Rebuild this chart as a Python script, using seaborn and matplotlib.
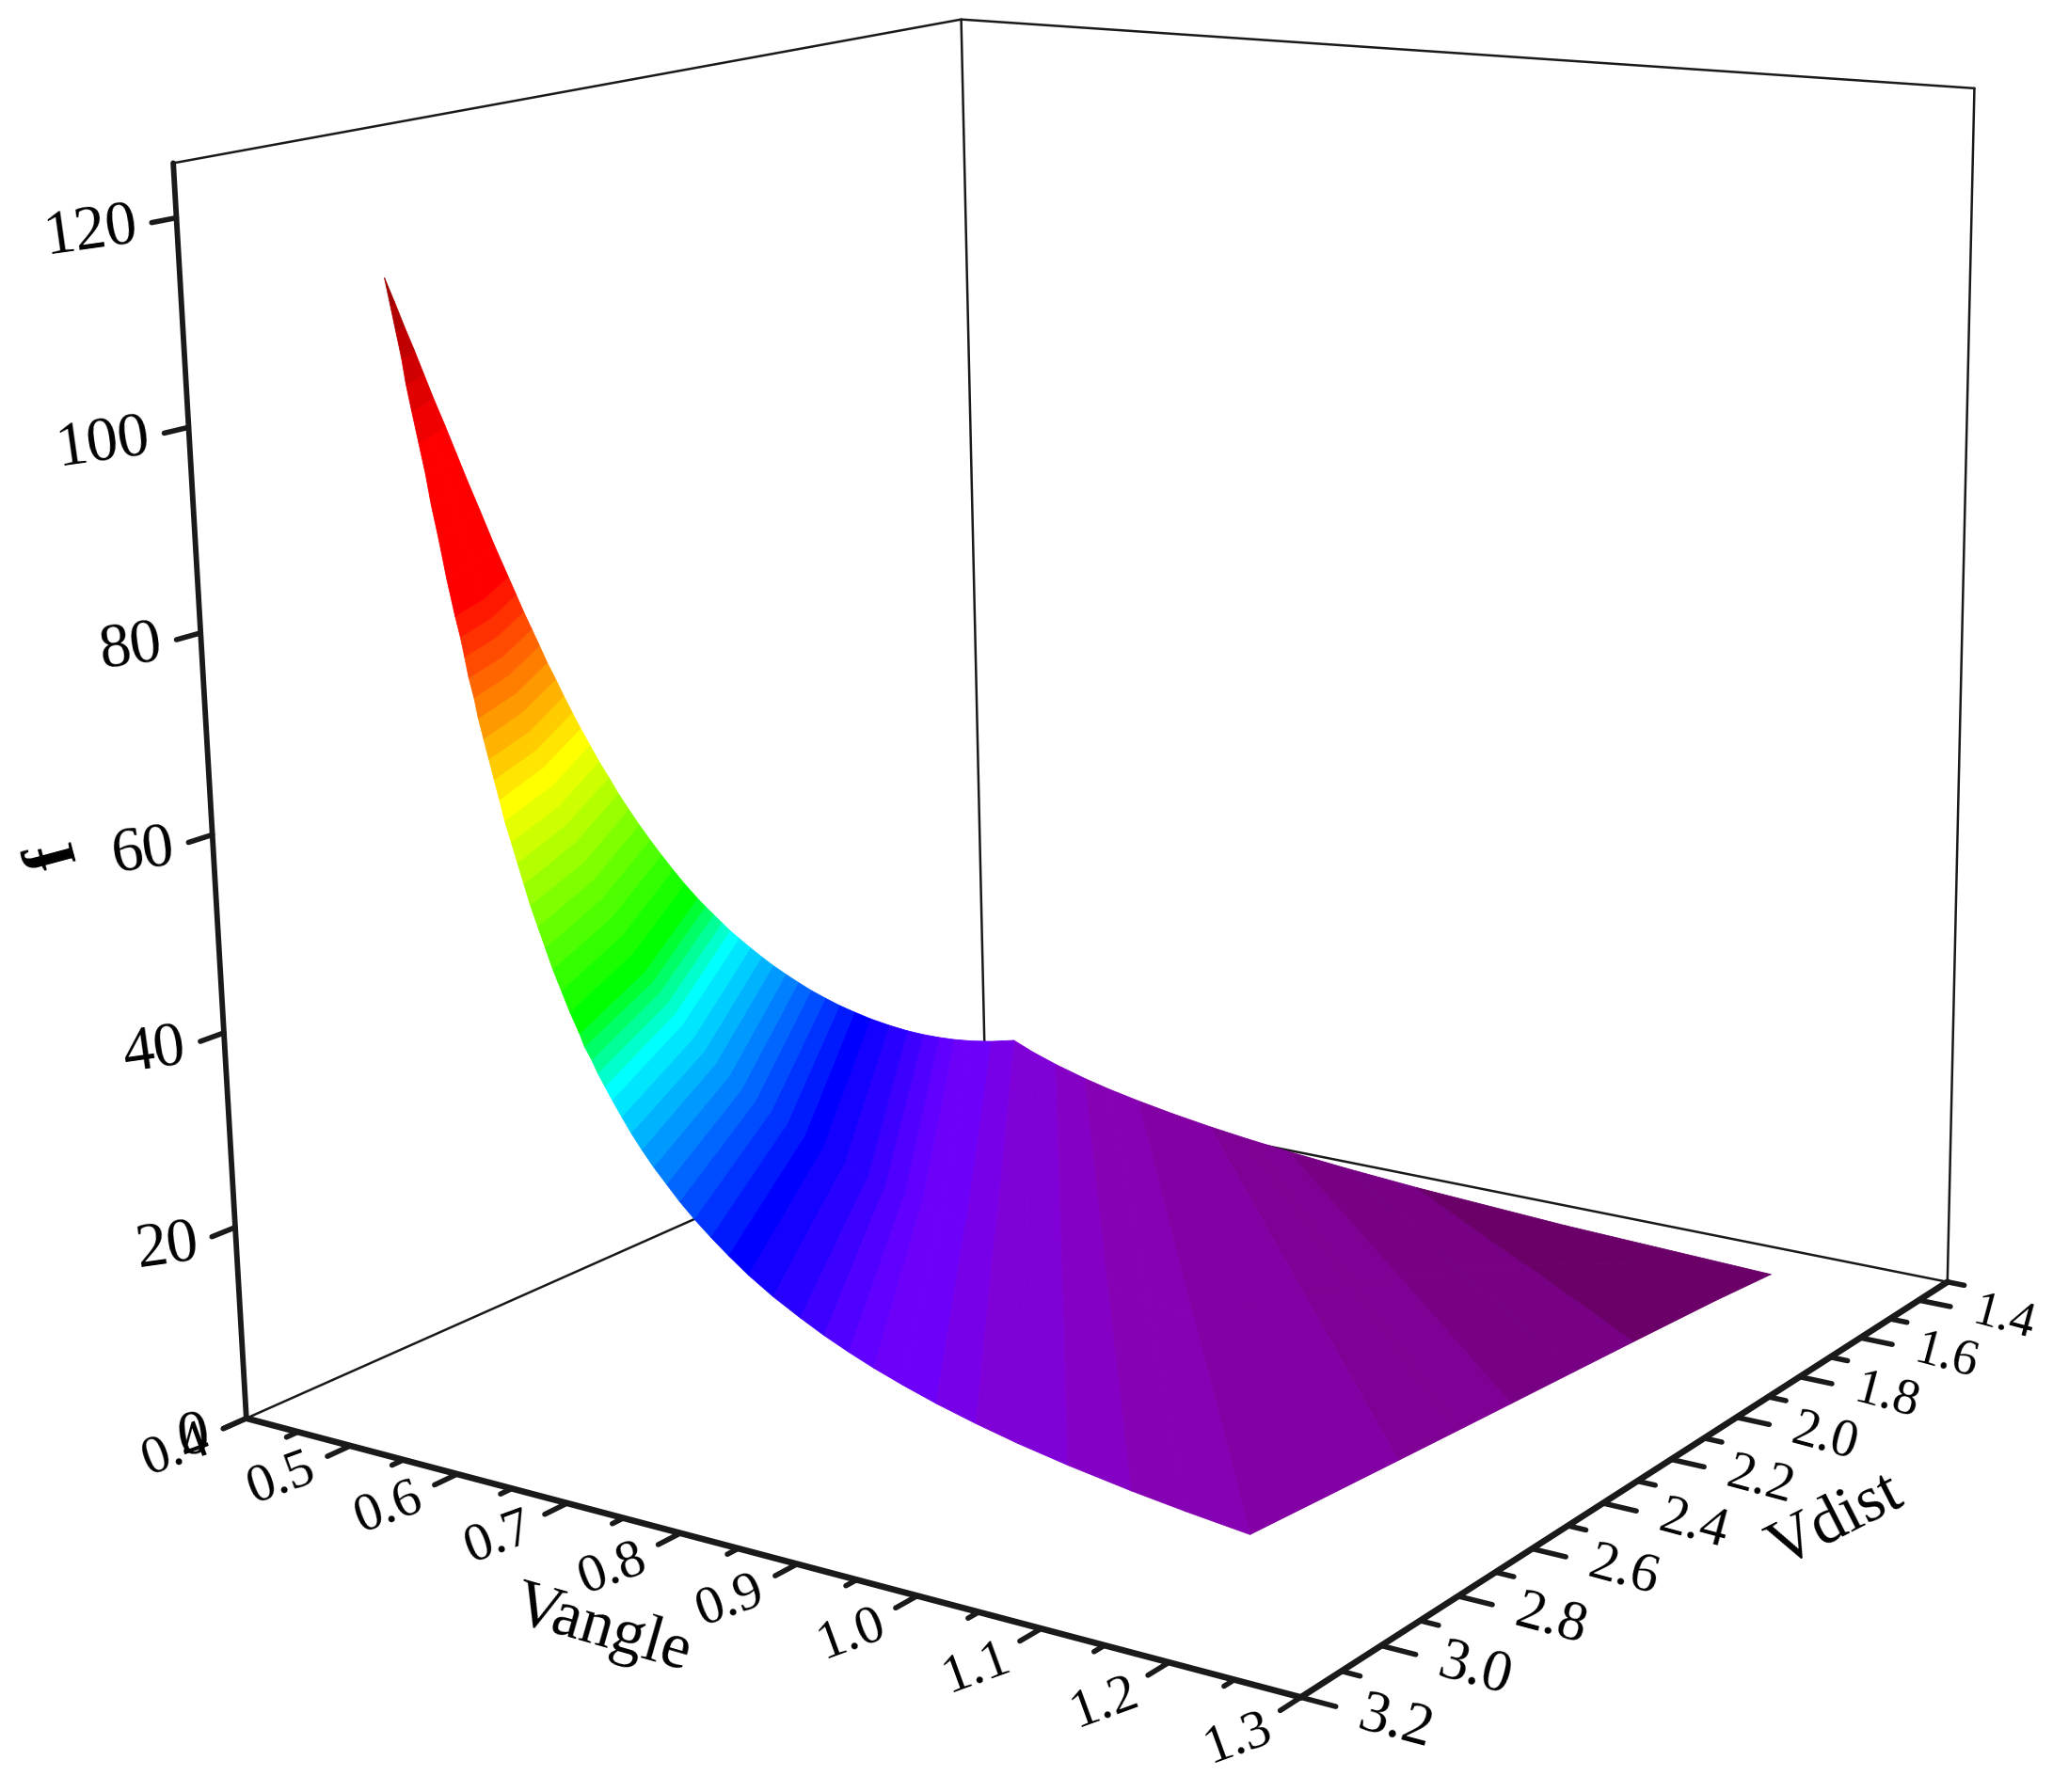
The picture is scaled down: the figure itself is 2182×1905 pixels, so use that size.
import numpy as np
from matplotlib import pyplot as plt
from mpl_toolkits.mplot3d import proj3d
import seaborn as sns

sns.set_theme(style='white')
plt.rcParams['font.family'] = ['Liberation Serif', 'DejaVu Serif']
plt.rcParams['text.color'] = 'black'

# axis ticks
vangle_ticks = [0.4, 0.5, 0.6, 0.7, 0.8, 0.9, 1.0, 1.1, 1.2, 1.3]
vdist_ticks = [1.4, 1.6, 1.8, 2.0, 2.2, 2.4, 2.6, 2.8, 3.0, 3.2]
f_ticks = [0, 20, 40, 60, 80, 100, 120]

# the surface, read off the picture as lines of equal f:
# each row gives f and the (Vangle, Vdist) of the line's front end, middle and back end
f_levels = [113.5, 111, 108.5, 106, 103.5, 101, 98, 95, 92, 89, 85, 81.5,
            79.5, 77.6, 75.6, 73.7, 71.75, 69.8, 67.85, 65.9, 64, 62,
            60, 58, 56, 54, 52, 50, 48, 46, 44, 42,
            40.8, 39.6, 38.4, 37.2, 36,
            34.5, 33.05, 31.6, 30.1, 28.65, 27.2, 25.7, 24.25, 22.8, 21.3,
            19.7, 18.2, 17, 15.9, 14.9, 13.9, 12.85, 11.8, 10.85, 9.9, 8.9, 8.2,
            7.5, 6.8, 6.15, 5.6, 5.1, 4.5, 3.9, 3.0, 2.2]
vangle_front = [0.5, 0.504, 0.508, 0.512, 0.515, 0.519, 0.524, 0.529, 0.533, 0.538, 0.544, 0.55,
                0.554, 0.557, 0.56, 0.564, 0.567, 0.571, 0.575, 0.579, 0.583, 0.587,
                0.592, 0.597, 0.602, 0.607, 0.613, 0.619, 0.625, 0.632, 0.639, 0.647,
                0.651, 0.657, 0.662, 0.668, 0.674,
                0.682, 0.69, 0.699, 0.709, 0.72, 0.731, 0.744, 0.758, 0.773, 0.79,
                0.811, 0.834, 0.854, 0.875, 0.896, 0.92, 0.948, 0.981, 1.015, 1.056, 1.107, 1.15,
                1.2, 1.2, 1.2, 1.2, 1.2, 1.2, 1.2, 1.2, 1.2]
vdist_front = [3.0] * 60 + [2.804, 2.616, 2.454, 2.304, 2.122, 1.941, 1.683, 1.5]
vangle_mid = [0.5, 0.503, 0.505, 0.508, 0.51, 0.512, 0.515, 0.518, 0.521, 0.524, 0.528, 0.532,
              0.534, 0.536, 0.538, 0.54, 0.542, 0.544, 0.547, 0.549, 0.551, 0.554,
              0.557, 0.559, 0.562, 0.566, 0.569, 0.572, 0.576, 0.58, 0.584, 0.589,
              0.592, 0.595, 0.598, 0.601, 0.604,
              0.609, 0.614, 0.619, 0.625, 0.631, 0.637, 0.644, 0.652, 0.661, 0.67,
              0.682, 0.695, 0.703, 0.713, 0.722, 0.733, 0.747, 0.765, 0.793, 0.826, 0.867, 0.902,
              0.943, 0.955, 0.968, 0.982, 0.998, 1.021, 1.05, 1.112, 1.2]
vdist_mid = [3.0, 2.992, 2.984, 2.976, 2.968, 2.959, 2.949, 2.939, 2.929, 2.919, 2.905, 2.893,
             2.885, 2.878, 2.871, 2.864, 2.856, 2.848, 2.84, 2.832, 2.823, 2.814,
             2.805, 2.795, 2.785, 2.775, 2.764, 2.753, 2.741, 2.729, 2.716, 2.702,
             2.693, 2.685, 2.675, 2.666, 2.656,
             2.644, 2.631, 2.618, 2.603, 2.589, 2.573, 2.557, 2.54, 2.522, 2.502,
             2.479, 2.456, 2.435, 2.414, 2.395, 2.374, 2.351, 2.326, 2.327, 2.328, 2.329, 2.331,
             2.332, 2.215, 2.106, 2.013, 1.928, 1.828, 1.729, 1.593, 1.5]
vangle_back = [0.5] * 55 + [0.519, 0.542, 0.571, 0.595, 0.624, 0.657, 0.693, 0.729, 0.767, 0.821, 0.887, 1.021, 1.2]
vdist_back = [3.0, 2.981, 2.963, 2.944, 2.926, 2.908, 2.885, 2.863, 2.841, 2.818, 2.788, 2.76,
              2.744, 2.729, 2.712, 2.696, 2.68, 2.662, 2.645, 2.627, 2.609, 2.589,
              2.569, 2.547, 2.526, 2.503, 2.479, 2.454, 2.428, 2.401, 2.373, 2.343,
              2.324, 2.304, 2.284, 2.264, 2.242,
              2.214, 2.186, 2.157, 2.125, 2.093, 2.06, 2.023, 1.986, 1.946, 1.903,
              1.853, 1.803, 1.759, 1.715, 1.672, 1.624, 1.567] + [1.5] * 14

# colour bands, top down: upper limits of f where each band starts
band_edges = [113.5, 111, 108.5, 106, 103.5, 101, 98, 81.5,
              79.5, 77.6, 75.6, 73.7, 71.75, 69.8, 67.85, 65.9, 64, 62,
              60, 58, 56, 54, 52, 50, 48, 46, 44, 42,
              40.8, 39.6, 38.4, 37.2, 36,
              34.5, 33.05, 31.6, 30.1, 28.65, 27.2, 25.7, 24.25, 22.8, 21.3,
              19.7, 18.2, 17, 15.9, 14.9, 12.85, 11.8, 9.9, 8.9, 7.5, 6.15, 5.1, 3.9, 2.2]
band_colors = (sns.blend_palette(['#a00000', '#f00000'], 6)
               + ['#ff0000']
               + sns.blend_palette(['#ff1800', '#ffff00'], 10)
               + sns.blend_palette(['#e6ff00', '#00ff00'], 10)
               + sns.blend_palette(['#00ff33', '#00ffff'], 5)
               + sns.blend_palette(['#00e6ff', '#0000ff'], 10)
               + ['#1400ff', '#2800ff', '#3c00ff', '#5000ff', '#6000ff', '#6c00f8', '#7800e8',
                  '#8000d8', '#8400c4', '#8600b4', '#8300a4', '#7f0094', '#770084', '#6a0068'])

W, H = 2182, 1906
fig = plt.figure(figsize=(W / 100, H / 100), dpi=100)
ax = fig.add_subplot(projection='3d')
ax.computed_zorder = False

# camera fitted to the box corners of the picture
ztop = 125.16
ax.set_xlim(0.4, 1.3)
ax.set_ylim(3.2, 1.3)
ax.set_zlim(0, ztop)
ax.set_box_aspect((1, 1.0051, 1.0067))
ax.view_init(14.3583, -55.083, 0.9518)
ax.set_proj_type('persp', focal_length=0.4848)
side, cx, cy = 2250.09, 1149.15, 832.66
ax.set_position([(cx - side / 2) / W, 1 - (cy + side / 2) / H, side / W, side / H])
ax.set_axis_off()

# surface
X = np.array([vangle_front, vangle_mid, vangle_back]).T
Y = np.array([vdist_front, vdist_mid, vdist_back]).T
levels = np.array(f_levels)
Z = np.tile(levels[:, None], (1, 3))
edges = np.array(band_edges)
fc = np.zeros((len(levels) - 1, 2, 3))
for i in range(len(levels) - 1):
    fmid = (levels[i] + levels[i + 1]) / 2
    fc[i, :] = sns.color_palette([band_colors[np.searchsorted(-edges, -fmid) - 1]])[0]
ax.plot_surface(X, Y, Z, facecolors=fc, shade=False, rstride=1, cstride=1, linewidth=0.6, zorder=2)

# walls
thin = dict(color='k', lw=1.8, zorder=1)
ax.plot([0.4, 0.4], [3.2, 1.3], [0, 0], **thin)
ax.plot([0.4, 1.3], [1.3, 1.3], [0, 0], **thin)
ax.plot([0.4, 0.4], [1.3, 1.3], [0, ztop], **thin)
ax.plot([1.3, 1.3], [1.3, 1.3], [0, ztop], **thin)
ax.plot([0.4, 0.4, 1.3], [3.2, 1.3, 1.3], [ztop] * 3, **thin)

# axes
thick = dict(color='k', lw=4.8, zorder=3, solid_capstyle='round')
tick = dict(color='k', lw=4.0, zorder=3, solid_capstyle='round')
ax.plot([0.4, 1.3], [3.2, 3.2], [0, 0], **thick)
ax.plot([1.3, 1.3], [3.2, 1.3], [0, 0], **thick)
ax.plot([0.4, 0.4], [3.2, 3.2], [0, ztop], **dict(thick, lw=4.2))


# Text3D ignores rotation, so labels go on as 2D text at the projected point
def label(x, y, z, txt, **kwargs):
    x2, y2, _ = proj3d.proj_transform(x, y, z, ax.get_proj())
    ax.text2D(x2, y2, txt, va='center', rotation_mode='anchor', zorder=4, **kwargs)


for v in vangle_ticks:
    ax.plot([v, v], [3.2, 3.25], [0, 0], **tick)
    label(v, 3.35, 0, '%.1f' % v, fontsize=42, rotation=20, ha='center')
for v in vangle_ticks[:-1]:
    ax.plot([v + 0.05, v + 0.05], [3.2, 3.225], [0, 0], **tick)
for v in vdist_ticks:
    ax.plot([1.3, 1.326], [v, v], [0, 0], **tick)
    label(1.37, v, 0, '%.1f' % v, fontsize=38 + (v - 1.4) * 4.4, rotation=-15, ha='center')
for v in vdist_ticks[:-1]:
    ax.plot([1.3, 1.314], [v + 0.1, v + 0.1], [0, 0], **tick)
ax.plot([1.3, 1.314], [1.3, 1.3], [0, 0], **tick)
for v in f_ticks:
    ax.plot([0.4, 0.4], [3.2, 3.25], [v, v], **tick)
    label(0.4, 3.28, v, str(v), fontsize=48, rotation=8, ha='right')

fig.text(640 / W, 1 - 1733 / H, 'Vangle', fontsize=50, rotation=-16, ha='center', va='center')
fig.text(1951 / W, 1 - 1618 / H, 'Vdist', fontsize=50, rotation=27, ha='center', va='center')
fig.text(60 / W, 1 - 908 / H, 'f', fontsize=56, fontweight='bold', rotation=105, ha='center', va='center')

fig.savefig('out.png', dpi=100)
